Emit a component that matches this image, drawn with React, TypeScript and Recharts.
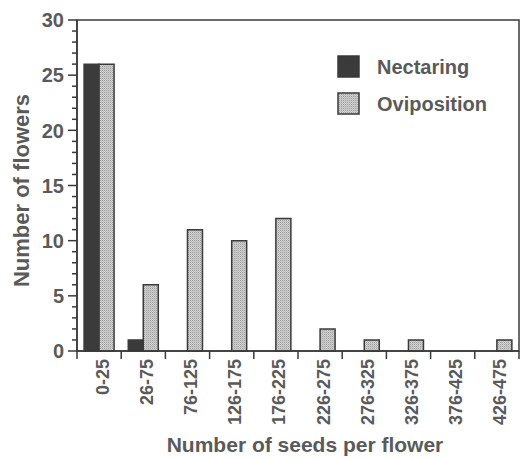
import React from "react";
import { Bar, BarChart, Legend, ReferenceArea, XAxis, YAxis, Label } from "recharts";

const seedRanges = [
  "0-25",
  "26-75",
  "76-125",
  "126-175",
  "176-225",
  "226-275",
  "276-325",
  "326-375",
  "376-425",
  "426-475",
];
const nectaring = [26, 1, 0, 0, 0, 0, 0, 0, 0, 0];
const oviposition = [26, 6, 11, 10, 12, 2, 1, 1, 0, 1];
const yTicks = Array.from({ length: 31 }, (_, i) => i);

const data = seedRanges.map((range, i) => ({
  range,
  nectaring: nectaring[i],
  oviposition: oviposition[i],
}));

const TEXT = "#5a5a5a";
const INK = "#3a3a3a";
const FONT = "'Liberation Sans', Arial, Helvetica, sans-serif";

function YTick(props: any) {
  const { x, y, payload } = props;
  const major = payload.value % 5 === 0;
  return (
    <g>
      <line x1={x - (major ? 9 : 5)} x2={x} y1={y} y2={y} stroke={INK} strokeWidth={1.5} />
      {major && (
        <text
          x={x - 13}
          y={y}
          dy="0.36em"
          textAnchor="end"
          fontSize={20}
          fontWeight="bold"
          fontFamily={FONT}
          fill={TEXT}
        >
          {payload.value}
        </text>
      )}
    </g>
  );
}

function XTick(props: any) {
  const { x, y, payload, index, visibleTicksCount } = props;
  const half = payload.offset ?? 0;
  const last = index === (visibleTicksCount ?? seedRanges.length) - 1;
  return (
    <g>
      <line x1={x - half} x2={x - half} y1={y} y2={y + 8} stroke={INK} strokeWidth={1.5} />
      {last && <line x1={x + half} x2={x + half} y1={y} y2={y + 8} stroke={INK} strokeWidth={1.5} />}
      <g transform={`translate(${x + 3},${y + 8}) rotate(-90)`}>
        <text
          textAnchor="end"
          dy="0.36em"
          fontSize={18}
          fontWeight="bold"
          fontFamily={FONT}
          fill={TEXT}
        >
          {payload.value}
        </text>
      </g>
    </g>
  );
}

function LegendBox() {
  const items = [
    { name: "Nectaring", fill: "#3b3b3b" },
    { name: "Oviposition", fill: "url(#stipple)" },
  ];
  return (
    <svg width={170} height={70}>
      {items.map((it, i) => (
        <g key={it.name} transform={`translate(0,${i * 37})`}>
          <rect x={1} y={1} width={21} height={21} fill={it.fill} stroke={INK} strokeWidth={1.5} />
          <text
            x={40}
            y={12}
            dy="0.36em"
            fontSize={20}
            fontWeight="bold"
            fontFamily={FONT}
            fill={TEXT}
          >
            {it.name}
          </text>
        </g>
      ))}
    </svg>
  );
}

export default function App() {
  return (
    <div style={{ position: "absolute", left: 0, top: 0, background: "#fff" }}>
      <BarChart
        width={520}
        height={459}
        data={data}
        margin={{ top: 20, right: 1, left: 0, bottom: 0 }}
        barCategoryGap="16%"
        barGap={0}
      >
        <defs>
          <pattern id="stipple" width="2" height="2" patternUnits="userSpaceOnUse">
            <rect width="2" height="2" fill="#d2d2d2" />
            <rect x="0" y="0" width="1" height="1" fill="#9c9c9c" />
            <rect x="1" y="1" width="1" height="1" fill="#bababa" />
          </pattern>
        </defs>
        <XAxis
          dataKey="range"
          interval={0}
          height={108}
          tickLine={false}
          tickSize={0}
          tickMargin={0}
          tick={<XTick />}
          axisLine={{ stroke: INK, strokeWidth: 1.5 }}
        >
          <Label
            value="Number of seeds per flower"
            position="insideBottom"
            offset={7}
            dx={7}
            fontSize={21}
            fontWeight="bold"
            fontFamily={FONT}
            fill={TEXT}
          />
        </XAxis>
        <YAxis
          domain={[0, 30]}
          ticks={yTicks}
          interval={0}
          width={77}
          tickLine={false}
          tickSize={0}
          tickMargin={0}
          tick={<YTick />}
          axisLine={{ stroke: INK, strokeWidth: 1.5 }}
        >
          <Label
            value="Number of flowers"
            angle={-90}
            position="center"
            dx={-17}
            dy={5}
            fontSize={22}
            fontWeight="bold"
            fontFamily={FONT}
            fill={TEXT}
          />
        </YAxis>
        <ReferenceArea
          x1={seedRanges[0]}
          x2={seedRanges[seedRanges.length - 1]}
          y1={0}
          y2={30}
          fill="none"
          fillOpacity={0}
          stroke={INK}
          strokeWidth={1.5}
          ifOverflow="visible"
        />
        <Legend
          content={<LegendBox />}
          layout="horizontal"
          verticalAlign="middle"
          align="center"
          wrapperStyle={{ top: 55, left: 337, width: 170 }}
        />
        <Bar
          dataKey="nectaring"
          name="Nectaring"
          fill="#3b3b3b"
          stroke={INK}
          strokeWidth={1.5}
          isAnimationActive={false}
        />
        <Bar
          dataKey="oviposition"
          name="Oviposition"
          fill="url(#stipple)"
          stroke={INK}
          strokeWidth={1.5}
          isAnimationActive={false}
        />
      </BarChart>
    </div>
  );
}
